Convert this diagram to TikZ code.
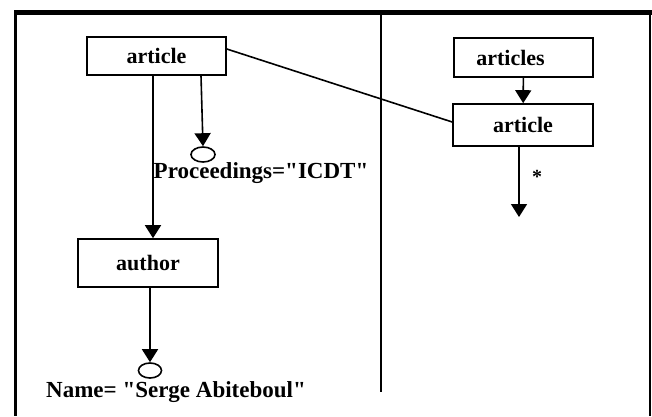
\documentclass[tikz,border=0pt]{standalone}
\usepackage{fontspec}
% keep plain straight quotes
\setmainfont{Liberation Serif}[Ligatures=TeXOff]
\usetikzlibrary{arrows.meta,shapes.geometric}
\begin{document}
\begin{tikzpicture}[x=1pt,y=-1pt,
  box/.style={draw, line width=1.6pt, rectangle, inner sep=0pt,
              font=\fontsize{22}{26}\selectfont\bfseries},
  leaf/.style={draw, line width=1.6pt, ellipse, inner sep=0pt,
               minimum width=24pt, minimum height=15pt},
  lbl/.style={inner sep=0pt, anchor=base, font=\fontsize{23}{27}\selectfont\bfseries},
  link/.style={line width=1.6pt},
  arr/.style={line width=1.6pt, -{Triangle[width=16pt,length=13pt]}}]
\useasboundingbox (0,0) rectangle (652,416);

% outer frame and divider
\fill (14,10) rectangle (652,15);
\draw[line width=2.6pt] (15.3,10) -- (15.3,416);
\draw[line width=2pt] (650,15) -- (650,416);
\draw[line width=2pt] (380.5,15) -- (380.5,392);

% left tree
\node[box, minimum width=139pt, minimum height=38pt] (artL) at (156.5,56) {article};
\node[box, minimum width=140pt, minimum height=48pt] (author) at (148,263) {author};
\node[leaf] (procC) at (203,154.5) {};
\node[lbl] (procL) at (261,178) {Proceedings="ICDT"};
\node[leaf, minimum width=23pt] (nameC) at (150,370.5) {};
\node[lbl] (nameL) at (176,397) {Name= "Serge Abiteboul"};

\draw[arr] ([xshift=-3.5pt]artL.south) -- ([xshift=-3.5pt]artL.south |- author.north);
\draw[arr] ([xshift=44.5pt]artL.south) -- (procC.north);
\draw[arr] (author.south -| nameC.north) -- (nameC.north);

% right tree
\node[box, minimum width=139pt, minimum height=39pt] (arts) at (523.5,57.5) {\kern-26pt articles};
\node[box, minimum width=140pt, minimum height=42pt] (artR) at (523,125) {article};
\coordinate (many) at (519,217);
\node[inner sep=0pt, font=\fontsize{20}{22}\selectfont\bfseries] (star) at (537,177) {*};

\draw[arr] (arts) -- (artR);
\draw[arr] (artR.south -| many) -- (many);

% correspondence between the two articles
\draw[link] ([yshift=7pt]artL.east) -- ([yshift=3pt]artR.west);
\end{tikzpicture}
\end{document}
